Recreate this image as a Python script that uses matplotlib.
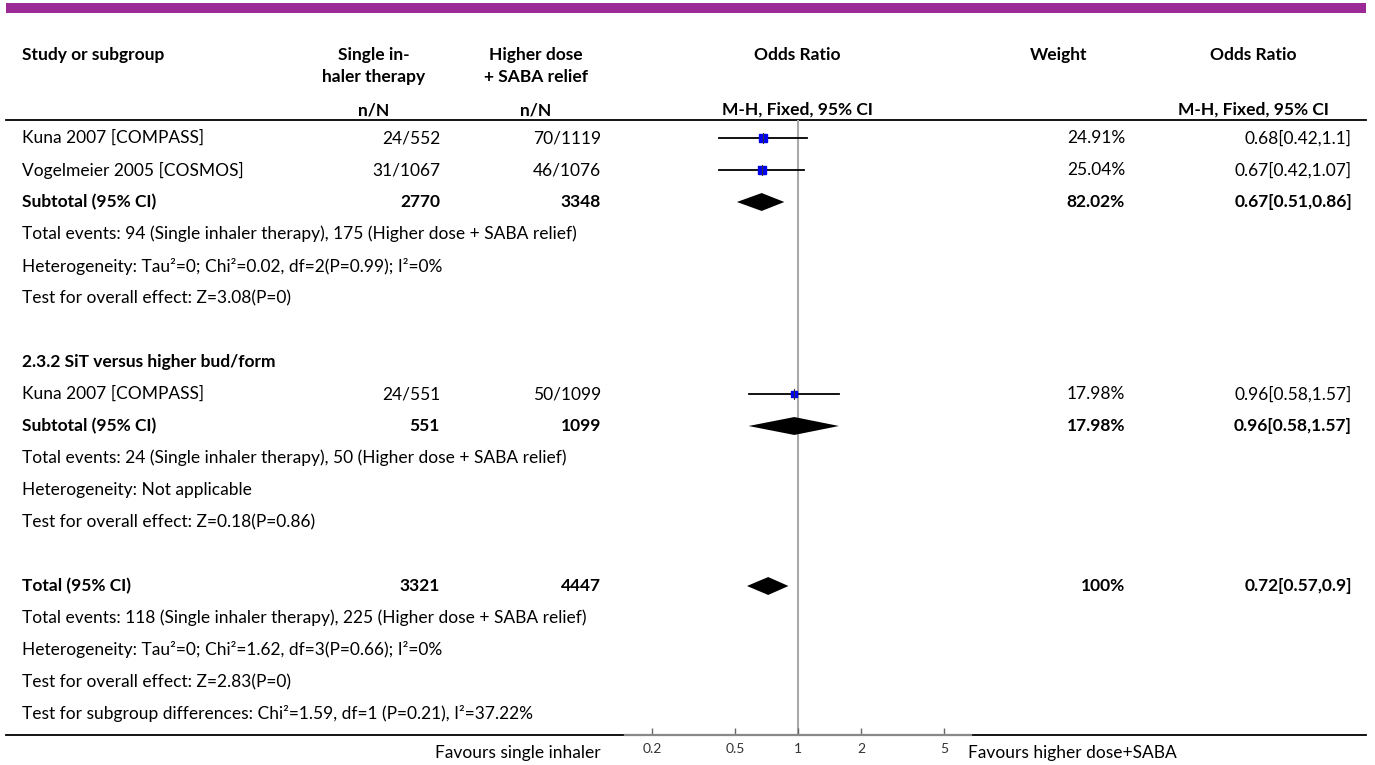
import numpy as np
import matplotlib
matplotlib.use("Agg")
import matplotlib.pyplot as plt

plt.rcParams['font.family'] = ['Lato', 'DejaVu Sans']

# --- data -------------------------------------------------------------
study_labels = ["Kuna 2007 [COMPASS]", "Vogelmeier 2005 [COSMOS]", "Subtotal (95% CI)",
                "Total events: 94 (Single inhaler therapy), 175 (Higher dose + SABA relief)",
                "Heterogeneity: Tau\u00b2=0; Chi\u00b2=0.02, df=2(P=0.99); I\u00b2=0%",
                "Test for overall effect: Z=3.08(P=0)",
                "",
                "2.3.2 SiT versus higher bud/form",
                "Kuna 2007 [COMPASS]", "Subtotal (95% CI)",
                "Total events: 24 (Single inhaler therapy), 50 (Higher dose + SABA relief)",
                "Heterogeneity: Not applicable",
                "Test for overall effect: Z=0.18(P=0.86)",
                "",
                "Total (95% CI)",
                "Total events: 118 (Single inhaler therapy), 225 (Higher dose + SABA relief)",
                "Heterogeneity: Tau\u00b2=0; Chi\u00b2=1.62, df=3(P=0.66); I\u00b2=0%",
                "Test for overall effect: Z=2.83(P=0)",
                "Test for subgroup differences: Chi\u00b2=1.59, df=1 (P=0.21), I\u00b2=37.22%"]
bold_rows = [2, 7, 9, 14]

single_nN = {0: "24/552", 1: "31/1067", 2: "2770", 8: "24/551", 9: "551", 14: "3321"}
higher_nN = {0: "70/1119", 1: "46/1076", 2: "3348", 8: "50/1099", 9: "1099", 14: "4447"}
weights = {0: "24.91%", 1: "25.04%", 2: "82.02%", 8: "17.98%", 9: "17.98%", 14: "100%"}
or_text = {0: "0.68[0.42,1.1]", 1: "0.67[0.42,1.07]", 2: "0.67[0.51,0.86]",
           8: "0.96[0.58,1.57]", 9: "0.96[0.58,1.57]", 14: "0.72[0.57,0.9]"}

# individual studies
study_rows = [0, 1, 8]
study_or = [0.68, 0.67, 0.96]
study_lo = [0.42, 0.42, 0.58]
study_hi = [1.1, 1.07, 1.57]
study_msize = [5.2, 5.4, 3.8]

# pooled estimates (diamonds)
pooled_rows = [2, 9, 14]
pooled_or = [0.67, 0.96, 0.72]
pooled_lo = [0.51, 0.58, 0.57]
pooled_hi = [0.86, 1.57, 0.9]

ticks = [0.2, 0.5, 1, 2, 5]
tick_labels = ["0.2", "0.5", "1", "2", "5"]

# --- layout (pixels) ----------------------------------------------------
W, H = 1375, 765
row0, row_h = 138, 32.0
fs = 12.5

fig = plt.figure(figsize=(W / 100, H / 100), dpi=100)
tab = fig.add_axes([0, 0, 1, 1])
tab.set_xlim(0, W)
tab.set_ylim(H, 0)
tab.axis("off")

# purple banner
tab.add_patch(plt.Rectangle((6, 3), 1360, 10, color="#9c2a96", lw=0))

# headers
hdr = dict(fontsize=fs, fontweight="bold", va="center")
tab.text(22, 55, "Study or subgroup", ha="left", **hdr)
tab.text(374, 55, "Single in-", ha="center", **hdr)
tab.text(374, 77, "haler therapy", ha="center", **hdr)
tab.text(536, 55, "Higher dose", ha="center", **hdr)
tab.text(536, 77, "+ SABA relief", ha="center", **hdr)
tab.text(797, 55, "Odds Ratio", ha="center", **hdr)
tab.text(1059, 55, "Weight", ha="center", **hdr)
tab.text(1253, 55, "Odds Ratio", ha="center", **hdr)
tab.text(374, 110, "n/N", ha="center", **hdr)
tab.text(536, 110, "n/N", ha="center", **hdr)
tab.text(797, 110, "M-H, Fixed, 95% CI", ha="center", **hdr)
tab.text(1253, 110, "M-H, Fixed, 95% CI", ha="center", **hdr)

tab.plot([6, 1366], [120, 120], color="black", lw=1.3)
tab.plot([6, 1366], [735, 735], color="black", lw=1.3)

for i, lab in enumerate(study_labels):
    y = row0 + i * row_h
    w = "bold" if i in bold_rows else "normal"
    tab.text(22, y, lab, ha="left", va="center", fontsize=fs, fontweight=w)
    if i in single_nN:
        tab.text(440, y, single_nN[i], ha="right", va="center", fontsize=fs, fontweight=w)
        tab.text(601, y, higher_nN[i], ha="right", va="center", fontsize=fs, fontweight=w)
        tab.text(1125, y, weights[i], ha="right", va="center", fontsize=fs, fontweight=w)
        tab.text(1352, y, or_text[i], ha="right", va="center", fontsize=fs, fontweight=w)

tab.text(601, 753, "Favours single inhaler", ha="right", va="center", fontsize=fs)
tab.text(968, 753, "Favours higher dose+SABA", ha="left", va="center", fontsize=fs)

# --- forest axes ----------------------------------------------------------
x0, x1 = 625, 971
y_top, y_bot = 120, 735
ax = fig.add_axes([x0 / W, (H - y_bot) / H, (x1 - x0) / W, (y_bot - y_top) / H])
ax.patch.set_alpha(0)
ax.set_xscale("log")
ax.set_xlim(10 ** -0.828, 10 ** 0.828)
ax.set_ylim((y_bot - row0) / row_h, (y_top - row0) / row_h)
for s in ["top", "left", "right"]:
    ax.spines[s].set_visible(False)
ax.spines["bottom"].set_color("#888888")
ax.spines["bottom"].set_linewidth(1.6)
ax.set_yticks([])
ax.set_xticks(ticks)
ax.set_xticklabels(tick_labels)
ax.minorticks_off()
ax.tick_params(axis="x", direction="in", length=5, width=1, color="#666666",
               labelsize=10, labelcolor="#333333", pad=6)

ax.axvline(1, color="#aaaaaa", lw=1.5, zorder=1)

for r, est, lo, hi, ms in zip(study_rows, study_or, study_lo, study_hi, study_msize):
    ax.plot([lo, hi], [r, r], color="black", lw=1.3, zorder=2)
    ax.plot(est, r, marker="s", ms=ms, color="#0000ee", mec="#0000ee", zorder=3)
    ax.plot([est, est], [r - 0.15, r + 0.15], color="#333333", lw=0.8, zorder=4)

for r, est, lo, hi in zip(pooled_rows, pooled_or, pooled_lo, pooled_hi):
    ax.fill([lo, est, hi, est], [r, r - 0.28, r, r + 0.28], color="black", lw=0, zorder=3)

fig.savefig("out.png", dpi=100)
